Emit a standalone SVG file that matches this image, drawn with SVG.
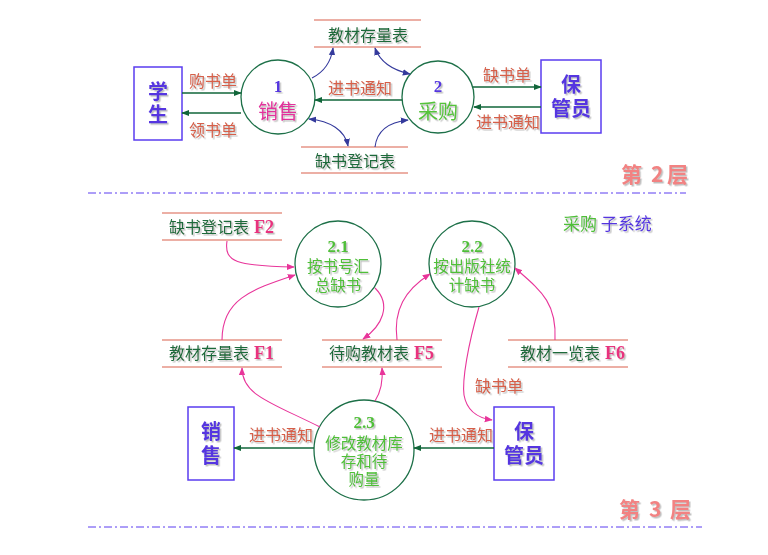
<svg xmlns="http://www.w3.org/2000/svg" width="768" height="555" viewBox="0 0 768 555">
  <defs>
    <filter id="shadow" x="-10%" y="-20%" width="130%" height="150%">
      <feDropShadow dx="1.5" dy="1.5" stdDeviation="0.7" flood-color="#8a8a8a" flood-opacity="0.55"/>
    </filter>
    <marker id="ahGreen" viewBox="0 0 10 10" refX="9" refY="5" markerWidth="8" markerHeight="8" markerUnits="userSpaceOnUse" orient="auto-start-reverse">
      <path d="M0,1 L10,5 L0,9 Z" fill="#11663a"/>
    </marker>
    <marker id="ahBlue" viewBox="0 0 10 10" refX="9" refY="5" markerWidth="8" markerHeight="8" markerUnits="userSpaceOnUse" orient="auto-start-reverse">
      <path d="M0,1 L10,5 L0,9 Z" fill="#343a9c"/>
    </marker>
    <marker id="ahPink" viewBox="0 0 10 10" refX="9" refY="5" markerWidth="8" markerHeight="8" markerUnits="userSpaceOnUse" orient="auto-start-reverse">
      <path d="M0,1 L10,5 L0,9 Z" fill="#e8359a"/>
    </marker>
  </defs>
  <style>
    text { font-family: "Noto Sans CJK SC", "Liberation Sans", sans-serif; filter: url(#shadow); }
    .num { font-family: "Liberation Serif", "Noto Sans CJK SC", serif; font-weight: bold; }
    .box { fill: #ffffff; stroke: #5a3cf0; stroke-width: 1.5; }
    .proc { fill: #ffffff; stroke: #1d7048; stroke-width: 1.3; }
    .store { stroke: #d9604c; stroke-width: 1.2; }
    .ent { fill: #5536e0; font-size: 20px; font-weight: bold; text-anchor: middle; }
    .lbl { fill: #d65f48; font-size: 16px; text-anchor: middle; }
    .stxt { fill: #1d6a3a; font-size: 16px; }
    .fid { fill: #e8307e; font-size: 18px; }
    .ptxt { fill: #4fbf38; font-size: 15.5px; text-anchor: middle; }
    .flow { fill: none; stroke: #11663a; stroke-width: 1.4; marker-end: url(#ahGreen); }
    .blue { fill: none; stroke: #343a9c; stroke-width: 1.1; }
    .pink { fill: none; stroke: #e8359a; stroke-width: 1.1; marker-end: url(#ahPink); }
    .sep { stroke: #5a3cf0; stroke-width: 1; stroke-dasharray: 8 3 2 3; }
    .layer { fill: #f28282; font-size: 21px; font-weight: bold; }
  </style>

  <!-- ===== Level 2 ===== -->
  <g id="student">
    <rect class="box" x="134" y="67" width="48" height="73"/>
    <text class="ent" x="158" y="99">学</text>
    <text class="ent" x="158" y="122">生</text>
  </g>
  <g id="p1">
    <circle class="proc" cx="278" cy="97" r="37"/>
    <text class="num" x="278" y="92" font-size="17" fill="#5536e0" text-anchor="middle">1</text>
    <text x="278" y="119" font-size="20" fill="#e2329c" text-anchor="middle">销售</text>
  </g>
  <g id="p2">
    <circle class="proc" cx="438" cy="97" r="36"/>
    <text class="num" x="438" y="92" font-size="17" fill="#5536e0" text-anchor="middle">2</text>
    <text x="438" y="119" font-size="20" fill="#55c33a" text-anchor="middle">采购</text>
  </g>
  <g id="keeper">
    <rect class="box" x="541" y="60" width="60" height="73"/>
    <text class="ent" x="571" y="92">保</text>
    <text class="ent" x="571" y="116">管员</text>
  </g>
  <g id="store-stock">
    <line class="store" x1="314" y1="20" x2="421" y2="20"/>
    <line class="store" x1="314" y1="47" x2="421" y2="47"/>
    <text class="stxt" x="368" y="41" text-anchor="middle">教材存量表</text>
  </g>
  <g id="store-missing">
    <line class="store" x1="301" y1="147" x2="408" y2="147"/>
    <line class="store" x1="301" y1="173" x2="408" y2="173"/>
    <text class="stxt" x="355" y="167" text-anchor="middle">缺书登记表</text>
  </g>

  <g id="flows-level2">
    <path class="flow" d="M182,93 L241,93"/>
    <path class="flow" d="M241,113 L182,113"/>
    <path class="flow" d="M402,100 L315,100"/>
    <path class="flow" d="M473,87 L541,87"/>
    <path class="flow" d="M541,107 L474,107"/>
    <path class="blue" d="M312,78 C 324,72 331,62 333,48" marker-end="url(#ahBlue)"/>
    <path class="blue" d="M375,48 C 380,62 392,70 410,74" marker-start="url(#ahBlue)" marker-end="url(#ahBlue)"/>
    <path class="blue" d="M309,119 C 330,121 345,130 348,146" marker-start="url(#ahBlue)" marker-end="url(#ahBlue)"/>
    <path class="blue" d="M375,147 C 377,130 390,122 408,120" marker-end="url(#ahBlue)"/>
    <text class="lbl" x="213" y="87">购书单</text>
    <text class="lbl" x="213" y="136">领书单</text>
    <text class="lbl" x="360" y="94">进书通知</text>
    <text class="lbl" x="507" y="81">缺书单</text>
    <text class="lbl" x="508" y="128">进书通知</text>
  </g>

  <text class="layer" y="182"><tspan x="621">第</tspan><tspan x="651">2</tspan><tspan x="667">层</tspan></text>
  <line class="sep" x1="88" y1="193" x2="686" y2="193"/>

  <!-- ===== Level 3 ===== -->
  <text x="563" y="230" font-size="17" fill="#4fbf38">采购 <tspan fill="#5536e0">子系统</tspan></text>

  <g id="f2">
    <line class="store" x1="162" y1="213" x2="282" y2="213"/>
    <line class="store" x1="162" y1="240" x2="282" y2="240"/>
    <text class="stxt" x="169" y="233">缺书登记表</text>
    <text class="num fid" x="254" y="233">F2</text>
  </g>
  <g id="p21">
    <circle class="proc" cx="338" cy="264" r="43"/>
    <text class="num" x="338" y="252" font-size="17" fill="#4fbf38" text-anchor="middle">2.1</text>
    <text class="ptxt" x="338" y="272">按书号汇</text>
    <text class="ptxt" x="338" y="291">总缺书</text>
  </g>
  <g id="p22">
    <circle class="proc" cx="472" cy="264" r="43"/>
    <text class="num" x="472" y="252" font-size="17" fill="#4fbf38" text-anchor="middle">2.2</text>
    <text class="ptxt" x="472" y="272">按出版社统</text>
    <text class="ptxt" x="472" y="291">计缺书</text>
  </g>
  <g id="f1">
    <line class="store" x1="162" y1="340" x2="282" y2="340"/>
    <line class="store" x1="162" y1="367" x2="282" y2="367"/>
    <text class="stxt" x="169" y="359">教材存量表</text>
    <text class="num fid" x="254" y="359">F1</text>
  </g>
  <g id="f5">
    <line class="store" x1="322" y1="340" x2="442" y2="340"/>
    <line class="store" x1="322" y1="367" x2="442" y2="367"/>
    <text class="stxt" x="329" y="359">待购教材表</text>
    <text class="num fid" x="414" y="359">F5</text>
  </g>
  <g id="f6">
    <line class="store" x1="508" y1="340" x2="628" y2="340"/>
    <line class="store" x1="508" y1="367" x2="628" y2="367"/>
    <text class="stxt" x="520" y="359">教材一览表</text>
    <text class="num fid" x="605" y="359">F6</text>
  </g>
  <g id="sales">
    <rect class="box" x="188" y="407" width="46" height="73"/>
    <text class="ent" x="211" y="439">销</text>
    <text class="ent" x="211" y="463">售</text>
  </g>
  <g id="p23">
    <circle class="proc" cx="364" cy="450" r="50"/>
    <text class="num" x="364" y="428" font-size="17" fill="#4fbf38" text-anchor="middle">2.3</text>
    <text class="ptxt" x="364" y="449">修改教材库</text>
    <text class="ptxt" x="364" y="467">存和待</text>
    <text class="ptxt" x="364" y="485">购量</text>
  </g>
  <g id="keeper3">
    <rect class="box" x="494" y="407" width="60" height="73"/>
    <text class="ent" x="524" y="439">保</text>
    <text class="ent" x="524" y="463">管员</text>
  </g>

  <g id="flows-level3">
    <path class="pink" d="M227,241 C 224,262 236,266 294,267"/>
    <path class="pink" d="M222,340 C 222,300 250,290 295,275"/>
    <path class="pink" d="M375,288 C 392,305 382,326 363,339"/>
    <path class="pink" d="M397,340 C 393,310 405,290 430,274"/>
    <path class="pink" d="M555,340 C 557,302 540,290 515,268"/>
    <path class="pink" d="M479,307 C 468,345 462,380 464,395 C 467,412 478,418 492,420"/>
    <path class="pink" d="M320,427 C 270,402 242,395 242,368"/>
    <path class="pink" d="M375,401 C 382,390 383,380 382,368"/>
    <path class="flow" d="M314,448 L234,448"/>
    <path class="flow" d="M494,448 L414,448"/>
    <text class="lbl" x="499" y="392">缺书单</text>
    <text class="lbl" x="281" y="441">进书通知</text>
    <text class="lbl" x="461" y="441">进书通知</text>
  </g>

  <text class="layer" y="517"><tspan x="619">第</tspan><tspan x="649">3</tspan><tspan x="670">层</tspan></text>
  <line class="sep" x1="88" y1="527" x2="702" y2="527"/>
</svg>
